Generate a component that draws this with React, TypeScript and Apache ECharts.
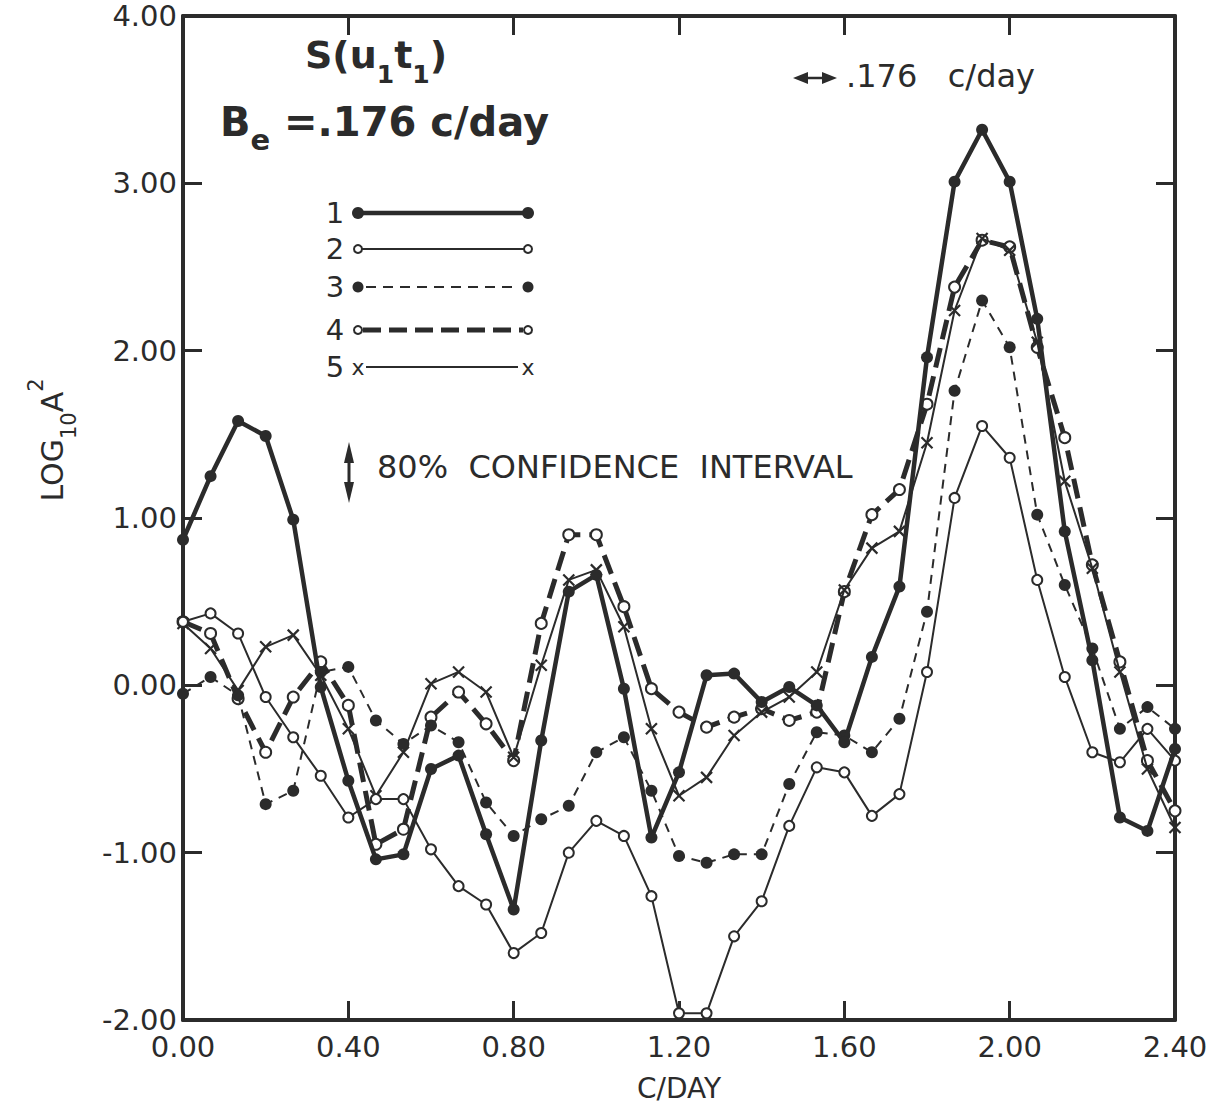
import React, { useEffect, useRef } from "react";
import * as echarts from "echarts";

const INK = "#2b2b2b";
const FONT = "DejaVu Sans";

// frequency (c/day) of each spectral estimate
const freqs = [
  0, 0.0667, 0.1333, 0.2, 0.2667, 0.3333, 0.4, 0.4667, 0.5333, 0.6, 0.6667, 0.7333,
  0.8, 0.8667, 0.9333, 1.0, 1.0667, 1.1333, 1.2, 1.2667, 1.3333, 1.4, 1.4667, 1.5333,
  1.6, 1.6667, 1.7333, 1.8, 1.8667, 1.9333, 2.0, 2.0667, 2.1333, 2.2, 2.2667, 2.3333, 2.4,
];

const s1 = [0.87, 1.25, 1.58, 1.49, 0.99, -0.01, -0.57, -1.04, -1.01, -0.5, -0.42, -0.89, -1.34, -0.33, 0.56, 0.66, -0.02, -0.91, -0.52, 0.06, 0.07, -0.1, -0.01, -0.12, -0.34, 0.17, 0.59, 1.96, 3.01, 3.32, 3.01, 2.19, 0.92, 0.15, -0.79, -0.87, -0.38];
const s2 = [0.38, 0.43, 0.31, -0.07, -0.31, -0.54, -0.79, -0.68, -0.68, -0.98, -1.2, -1.31, -1.6, -1.48, -1.0, -0.81, -0.9, -1.26, -1.96, -1.96, -1.5, -1.29, -0.84, -0.49, -0.52, -0.78, -0.65, 0.08, 1.12, 1.55, 1.36, 0.63, 0.05, -0.4, -0.46, -0.26, -0.45];
const s3 = [-0.05, 0.05, -0.06, -0.71, -0.63, 0.08, 0.11, -0.21, -0.35, -0.24, -0.34, -0.7, -0.9, -0.8, -0.72, -0.4, -0.31, -0.63, -1.02, -1.06, -1.01, -1.01, -0.59, -0.28, -0.3, -0.4, -0.2, 0.44, 1.76, 2.3, 2.02, 1.02, 0.6, 0.22, -0.26, -0.13, -0.26];
const s4 = [0.38, 0.31, -0.08, -0.4, -0.07, 0.14, -0.12, -0.95, -0.86, -0.19, -0.04, -0.23, -0.45, 0.37, 0.9, 0.9, 0.47, -0.02, -0.16, -0.25, -0.19, -0.14, -0.21, -0.16, 0.56, 1.02, 1.17, 1.68, 2.38, 2.66, 2.62, 2.02, 1.48, 0.72, 0.14, -0.45, -0.75];
const s5 = [0.37, 0.22, -0.03, 0.23, 0.3, 0.06, -0.26, -0.66, -0.4, 0.01, 0.08, -0.04, -0.43, 0.12, 0.63, 0.69, 0.35, -0.26, -0.66, -0.55, -0.3, -0.16, -0.07, 0.08, 0.57, 0.82, 0.92, 1.45, 2.24, 2.67, 2.6, 2.05, 1.22, 0.7, 0.08, -0.5, -0.85];

const seriesNames = ["1", "2", "3", "4", "5"];

const X_MARK = "path://M0,0L10,10M10,0L0,10";

function pairs(vals: number[]) {
  return freqs.map((f, i) => [f, vals[i]]);
}

export default function App() {
  const ref = useRef<HTMLDivElement>(null);
  useEffect(() => {
    if (!ref.current) return;
    const chart = echarts.init(ref.current, undefined, { renderer: "svg" });

    const axisCommon = {
      type: "value" as const,
      axisLine: { show: true, onZero: false, lineStyle: { color: INK, width: 4 } },
      axisTick: { show: true, inside: true, length: 19, lineStyle: { color: INK, width: 3 } },
      splitLine: { show: false },
    };

    const legendY = [213, 249, 287, 330, 367];
    const lx0 = 358;
    const lx1 = 528;

    const graphic: any[] = [
      // title
      {
        type: "text",
        left: 305,
        top: 36,
        style: {
          text: "{n|S(u}{s|1}{n|t}{s|1}{n|)}",
          fill: INK,
          rich: {
            n: { fontSize: 38, fontFamily: FONT, fontWeight: "bold", lineHeight: 64, fill: INK },
            s: { fontSize: 25, fontFamily: FONT, fontWeight: "bold", verticalAlign: "bottom", fill: INK },
          },
        },
      },
      {
        type: "text",
        left: 220,
        top: 102,
        style: {
          text: "{n|B}{s|e}{n| =.176 c/day}",
          fill: INK,
          rich: {
            n: { fontSize: 40, fontFamily: FONT, fontWeight: "bold", lineHeight: 64, fill: INK },
            s: { fontSize: 29, fontFamily: FONT, fontWeight: "bold", verticalAlign: "bottom", fill: INK },
          },
        },
      },
      // y axis name
      {
        type: "text",
        x: 52,
        y: 440,
        rotation: Math.PI / 2,
        style: {
          text: "{n|LOG}{s|10}{n|A}{p|2}",
          align: "center",
          verticalAlign: "middle",
          fill: INK,
          rich: {
            n: { fontSize: 30, fontFamily: FONT, lineHeight: 54, fill: INK },
            s: { fontSize: 21, fontFamily: FONT, verticalAlign: "bottom", fill: INK },
            p: { fontSize: 21, fontFamily: FONT, verticalAlign: "top", fill: INK },
          },
        },
      },
      // bandwidth arrow
      { type: "line", shape: { x1: 800, y1: 78, x2: 830, y2: 78 }, style: { stroke: INK, lineWidth: 2.5 } },
      { type: "polygon", shape: { points: [[793, 78], [808, 72], [808, 84]] }, style: { fill: INK } },
      { type: "polygon", shape: { points: [[837, 78], [822, 72], [822, 84]] }, style: { fill: INK } },
      {
        type: "text",
        left: 846,
        top: 60,
        style: { text: ".176   c/day", fontSize: 32, fontFamily: FONT, fill: INK },
      },
      // confidence arrow
      { type: "line", shape: { x1: 349, y1: 452, x2: 349, y2: 494 }, style: { stroke: INK, lineWidth: 3 } },
      { type: "polygon", shape: { points: [[349, 442], [344, 463], [354, 463]] }, style: { fill: INK } },
      { type: "polygon", shape: { points: [[349, 503], [344, 482], [354, 482]] }, style: { fill: INK } },
      {
        type: "text",
        left: 377,
        top: 451,
        style: { text: "80%  CONFIDENCE  INTERVAL", fontSize: 32, fontFamily: FONT, fill: INK },
      },
    ];

    // legend
    seriesNames.forEach((name, i) => {
      const y = legendY[i];
      graphic.push({
        type: "text",
        x: 335,
        y: y,
        style: { text: name, fontSize: 29, fontFamily: FONT, fill: INK, align: "center", verticalAlign: "middle" },
      });
    });
    // 1: thick solid, filled dots
    graphic.push({ type: "line", shape: { x1: lx0, y1: legendY[0], x2: lx1, y2: legendY[0] }, style: { stroke: INK, lineWidth: 4.5 } });
    graphic.push({ type: "circle", shape: { cx: lx0, cy: legendY[0], r: 6 }, style: { fill: INK } });
    graphic.push({ type: "circle", shape: { cx: lx1, cy: legendY[0], r: 6 }, style: { fill: INK } });
    // 2: thin solid, open circles
    graphic.push({ type: "line", shape: { x1: lx0 + 4, y1: legendY[1], x2: lx1 - 4, y2: legendY[1] }, style: { stroke: INK, lineWidth: 2 } });
    graphic.push({ type: "circle", shape: { cx: lx0, cy: legendY[1], r: 4 }, style: { fill: "#fff", stroke: INK, lineWidth: 2 } });
    graphic.push({ type: "circle", shape: { cx: lx1, cy: legendY[1], r: 4 }, style: { fill: "#fff", stroke: INK, lineWidth: 2 } });
    // 3: thin dashed, filled dots
    graphic.push({ type: "line", shape: { x1: lx0 + 8, y1: legendY[2], x2: lx1 - 12, y2: legendY[2] }, style: { stroke: INK, lineWidth: 2, lineDash: [10, 7] } });
    graphic.push({ type: "circle", shape: { cx: lx0, cy: legendY[2], r: 5.5 }, style: { fill: INK } });
    graphic.push({ type: "circle", shape: { cx: lx1, cy: legendY[2], r: 5.5 }, style: { fill: INK } });
    // 4: thick dashed, open circles
    graphic.push({ type: "line", shape: { x1: lx0 + 5, y1: legendY[3], x2: lx1 - 5, y2: legendY[3] }, style: { stroke: INK, lineWidth: 5, lineDash: [18, 8] } });
    graphic.push({ type: "circle", shape: { cx: lx0, cy: legendY[3], r: 4 }, style: { fill: "#fff", stroke: INK, lineWidth: 2 } });
    graphic.push({ type: "circle", shape: { cx: lx1, cy: legendY[3], r: 4 }, style: { fill: "#fff", stroke: INK, lineWidth: 2 } });
    // 5: thin solid, x
    graphic.push({ type: "line", shape: { x1: lx0 + 8, y1: legendY[4], x2: lx1 - 10, y2: legendY[4] }, style: { stroke: INK, lineWidth: 2 } });
    graphic.push({ type: "text", x: lx0, y: legendY[4], style: { text: "x", fontSize: 22, fontFamily: FONT, fill: INK, align: "center", verticalAlign: "middle" } });
    graphic.push({ type: "text", x: lx1, y: legendY[4], style: { text: "x", fontSize: 22, fontFamily: FONT, fill: INK, align: "center", verticalAlign: "middle" } });

    const lineSeries = (name: string, vals: number[], extra: any) => ({
      name,
      type: "line",
      data: pairs(vals),
      xAxisIndex: 0,
      yAxisIndex: 0,
      silent: true,
      ...extra,
    });

    chart.setOption({
      animation: false,
      backgroundColor: "#ffffff",
      grid: { left: 183, right: 52, top: 16, bottom: 90, containLabel: false },
      xAxis: [
        {
          ...axisCommon,
          position: "bottom",
          min: 0,
          max: 2.4,
          interval: 0.4,
          name: "C/DAY",
          nameLocation: "middle",
          nameGap: 54,
          nameTextStyle: { fontSize: 28, fontFamily: FONT, color: INK },
          axisLabel: {
            formatter: (v: number) => v.toFixed(2),
            color: INK,
            fontSize: 29,
            fontFamily: FONT,
            margin: 12,
            showMinLabel: true,
            showMaxLabel: true,
          },
        },
        {
          ...axisCommon,
          position: "top",
          min: 0,
          max: 2.4,
          interval: 0.4,
          axisLabel: { show: false },
        },
      ],
      yAxis: [
        {
          ...axisCommon,
          position: "left",
          min: -2,
          max: 4,
          interval: 1,
          axisLabel: {
            formatter: (v: number) => v.toFixed(2),
            color: INK,
            fontSize: 29,
            fontFamily: FONT,
            margin: 6,
            showMinLabel: true,
            showMaxLabel: true,
          },
        },
        {
          ...axisCommon,
          position: "right",
          min: -2,
          max: 4,
          interval: 1,
          axisLabel: { show: false },
        },
      ],
      series: [
        lineSeries("1", s1, {
          symbol: "circle",
          symbolSize: 12,
          lineStyle: { color: INK, width: 4.5 },
          itemStyle: { color: INK },
          z: 5,
        }),
        lineSeries("2", s2, {
          symbol: "emptyCircle",
          symbolSize: 10,
          lineStyle: { color: INK, width: 2 },
          itemStyle: { color: INK, borderWidth: 2 },
          z: 4,
        }),
        lineSeries("3", s3, {
          symbol: "circle",
          symbolSize: 12,
          lineStyle: { color: INK, width: 2, type: [9, 7] },
          itemStyle: { color: INK },
          z: 3,
        }),
        lineSeries("4", s4, {
          symbol: "emptyCircle",
          symbolSize: 11,
          lineStyle: { color: INK, width: 5, type: [20, 9] },
          itemStyle: { color: INK, borderWidth: 2 },
          z: 2,
        }),
        lineSeries("5", s5, {
          symbol: X_MARK,
          symbolSize: 11,
          lineStyle: { color: INK, width: 2 },
          itemStyle: { color: "none", borderColor: INK, borderWidth: 2.2 },
          z: 3,
        }),
      ],
      graphic,
    });

    return () => {
      chart.dispose();
    };
  }, []);

  return (
    <div
      ref={ref}
      style={{ position: "absolute", left: 0, top: 0, width: 1227, height: 1110, background: "#fff" }}
    />
  );
}
